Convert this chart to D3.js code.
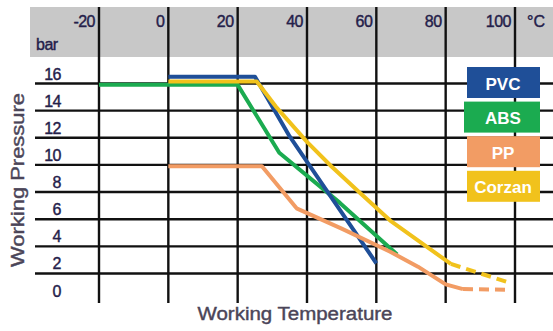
<!DOCTYPE html>
<html>
<head>
<meta charset="utf-8">
<script src="https://cdn.jsdelivr.net/npm/d3@7"></script>
<style>
  html, body { margin: 0; padding: 0; background: #fff; }
  svg { display: block; font-family: "Liberation Sans", Arial, sans-serif; }
</style>
</head>
<body>
<div id="chart"></div>
<script>
// values (temperature °C, pressure bar)
const xTicks = [-20, 0, 20, 40, 60, 80, 100];
const yTicks = [0, 2, 4, 6, 8, 10, 12, 14, 16];
const legendNames = ['PVC', 'ABS', 'PP', 'Corzan'];

const pvcTemp = [0, 25, 35, 60];
const pvcPress = [16.5, 16.5, 12.1, 2.75];

const absTemp = [-20, 20, 32, 49.5, 66];
const absPress = [15.9, 15.9, 10.9, 7.2, 3.4];

const ppTemp = [0, 27, 37, 50, 64, 72, 80, 85];
const ppPress = [9.9, 9.9, 6.8, 5.3, 3.6, 2.5, 1.2, 0.85];
const ppDashTemp = [85, 98];
const ppDashPress = [0.85, 0.8];

const corzanTemp = [0, 25.5, 31, 40, 47, 55, 64, 81.5];
const corzanPress = [16.15, 16.15, 14.3, 11.7, 9.9, 8.0, 5.9, 2.7];
const corzanDashTemp = [81.5, 98];
const corzanDashPress = [2.7, 1.35];

const colors = {
  PVC: '#1f4f98',
  ABS: '#1bab50',
  PP: '#f29c64',
  Corzan: '#f1c21c',
};

const width = 553;
const height = 331;

const svg = d3.select('#chart').append('svg')
  .attr('width', width)
  .attr('height', height);

const x = d3.scaleLinear().domain([-20, 100]).range([99, 515]);
const y = d3.scaleLinear().domain([0, 16]).range([300.6, 83.5]);

// grey header band
svg.append('rect')
  .attr('x', 30).attr('y', 7)
  .attr('width', width - 30).attr('height', 50)
  .attr('fill', '#c8c8c8');

// grid
svg.append('g').selectAll('line')
  .data(yTicks.filter((d) => d > 0))
  .enter().append('line')
  .attr('x1', 35).attr('x2', width)
  .attr('y1', (d) => y(d)).attr('y2', (d) => y(d))
  .attr('stroke', '#111').attr('stroke-width', 2.4);

svg.append('g').selectAll('line')
  .data(xTicks)
  .enter().append('line')
  .attr('x1', (d) => x(d)).attr('x2', (d) => x(d))
  .attr('y1', 7).attr('y2', 303)
  .attr('stroke', '#111').attr('stroke-width', 2.4);

// tick labels
const tickColor = '#24204a';
svg.append('g').selectAll('text')
  .data(xTicks)
  .enter().append('text')
  .attr('x', (d) => x(d) - 4)
  .attr('y', 26.5)
  .attr('text-anchor', 'end')
  .attr('font-size', 16)
  .attr('letter-spacing', -0.5)
  .attr('fill', tickColor)
  .attr('stroke', tickColor).attr('stroke-width', 0.4)
  .text((d) => d);

svg.append('g').selectAll('text')
  .data(yTicks)
  .enter().append('text')
  .attr('x', 61)
  .attr('y', (d) => y(d) - 4)
  .attr('text-anchor', 'end')
  .attr('font-size', 16)
  .attr('letter-spacing', -0.5)
  .attr('fill', tickColor)
  .attr('stroke', tickColor).attr('stroke-width', 0.4)
  .text((d) => d);

svg.append('text')
  .attr('x', 36).attr('y', 50)
  .attr('font-size', 16)
  .attr('letter-spacing', -0.5)
  .attr('fill', tickColor)
  .attr('stroke', tickColor).attr('stroke-width', 0.4)
  .text('bar');

svg.append('text')
  .attr('x', 527).attr('y', 27)
  .attr('font-size', 16)
  .attr('fill', tickColor)
  .attr('stroke', tickColor).attr('stroke-width', 0.4)
  .text('°C');

// axis titles
const titleColor = '#4b4558';
svg.append('text')
  .attr('transform', 'translate(24,180) rotate(-90)')
  .attr('text-anchor', 'middle')
  .attr('font-size', 18)
  .attr('textLength', 174)
  .attr('lengthAdjust', 'spacingAndGlyphs')
  .attr('fill', titleColor)
  .attr('stroke', titleColor).attr('stroke-width', 0.4)
  .text('Working Pressure');

svg.append('text')
  .attr('x', 295).attr('y', 320)
  .attr('text-anchor', 'middle')
  .attr('font-size', 18)
  .attr('textLength', 195)
  .attr('lengthAdjust', 'spacingAndGlyphs')
  .attr('fill', titleColor)
  .attr('stroke', titleColor).attr('stroke-width', 0.4)
  .text('Working Temperature');

// curves
const line = d3.line()
  .x((d) => x(d[0]))
  .y((d) => y(d[1]));

const series = [
  { name: 'ABS', temp: absTemp, press: absPress },
  { name: 'PVC', temp: pvcTemp, press: pvcPress },
  { name: 'PP', temp: ppTemp, press: ppPress },
  { name: 'PP', temp: ppDashTemp, press: ppDashPress, dashed: true },
  { name: 'Corzan', temp: corzanTemp, press: corzanPress },
  { name: 'Corzan', temp: corzanDashTemp, press: corzanDashPress, dashed: true },
];

svg.append('g').selectAll('path')
  .data(series)
  .enter().append('path')
  .attr('d', (s) => line(d3.zip(s.temp, s.press)))
  .attr('fill', 'none')
  .attr('stroke', (s) => colors[s.name])
  .attr('stroke-width', 4)
  .attr('stroke-linejoin', 'round')
  .attr('stroke-dasharray', (s) => (s.dashed ? '10,6' : null));

// legend boxes
const legend = svg.append('g').selectAll('g')
  .data(legendNames)
  .enter().append('g')
  .attr('transform', (d, i) => `translate(467,${67 + i * 34.6})`);

legend.append('rect')
  .attr('x', (d) => (d == 'ABS' ? -3 : 0))
  .attr('width', (d) => (d == 'ABS' ? 76 : 73))
  .attr('height', 31)
  .attr('fill', (d) => colors[d]);

legend.append('text')
  .attr('x', 36)
  .attr('y', 22.5)
  .attr('text-anchor', 'middle')
  .attr('font-size', 17)
  .attr('font-weight', 'bold')
  .attr('fill', '#fff')
  .text((d) => d);
</script>
</body>
</html>
